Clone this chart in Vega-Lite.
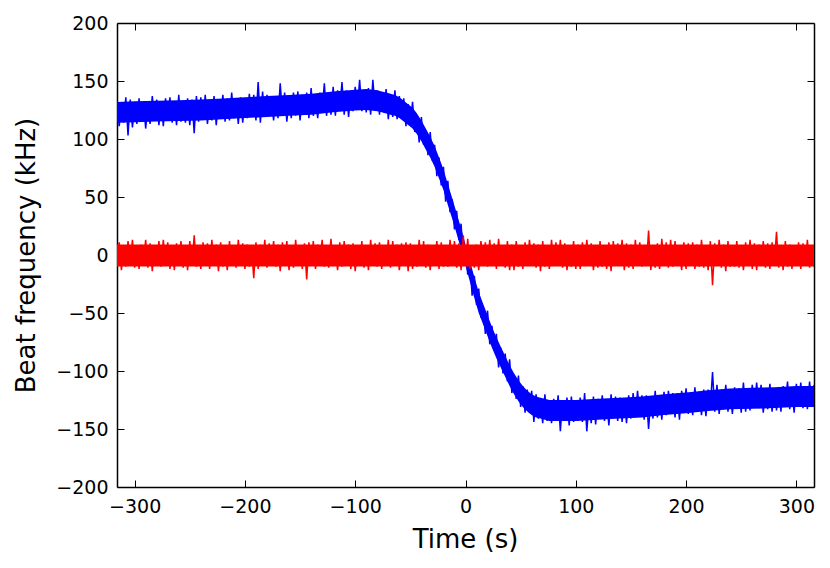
{
  "$schema": "https://vega.github.io/schema/vega-lite/v6.json",
  "width": 697,
  "height": 464,
  "autosize": {"type": "none"},
  "padding": {"left": 117, "top": 23, "right": 16, "bottom": 81},
  "background": "white",
  "config": {
    "view": {"stroke": null},
    "font": "DejaVu Sans",
    "axis": {
      "grid": false,
      "domainColor": "black",
      "domainWidth": 1.5,
      "tickColor": "black",
      "tickWidth": 1,
      "tickSize": -7,
      "labelFont": "DejaVu Sans",
      "labelFontSize": 19,
      "labelColor": "black",
      "titleFont": "DejaVu Sans",
      "titleFontSize": 26,
      "titleFontWeight": "normal",
      "titleColor": "black"
    }
  },
  "datasets": {
    "core": [
      {"t":-316,"bl":114,"bh":132,"rl":-10,"rh":9},{"t":-300,"bl":114.5,"bh":132.5,"rl":-10,"rh":9},{"t":-280,"bl":115,"bh":133,"rl":-10,"rh":9},
      {"t":-260,"bl":115.5,"bh":133.5,"rl":-10,"rh":9},{"t":-240,"bl":116,"bh":134,"rl":-10,"rh":9},{"t":-220,"bl":117,"bh":135,"rl":-10,"rh":9},
      {"t":-200,"bl":118,"bh":136,"rl":-10,"rh":9},{"t":-180,"bl":119,"bh":137,"rl":-10,"rh":9},{"t":-160,"bl":120,"bh":138,"rl":-10,"rh":9},
      {"t":-140,"bl":121,"bh":139,"rl":-10,"rh":9},{"t":-120,"bl":123,"bh":141,"rl":-10,"rh":9},{"t":-100,"bl":124.5,"bh":142.5,"rl":-10,"rh":9},
      {"t":-90,"bl":125,"bh":143,"rl":-10,"rh":9},{"t":-80,"bl":124,"bh":142,"rl":-10,"rh":9},{"t":-76,"bl":123,"bh":141,"rl":-10,"rh":9},
      {"t":-72,"bl":122,"bh":140,"rl":-10,"rh":9},{"t":-68,"bl":121,"bh":139,"rl":-10,"rh":9},{"t":-64,"bl":120,"bh":138,"rl":-10,"rh":9},
      {"t":-60,"bl":118,"bh":136,"rl":-10,"rh":9},{"t":-56,"bl":115,"bh":133,"rl":-10,"rh":9},{"t":-52,"bl":112,"bh":130,"rl":-10,"rh":9},
      {"t":-48,"bl":109,"bh":127,"rl":-10,"rh":9},{"t":-44,"bl":104,"bh":122,"rl":-10,"rh":9},{"t":-40,"bl":98,"bh":116,"rl":-10,"rh":9},
      {"t":-36,"bl":91,"bh":109,"rl":-10,"rh":9},{"t":-32,"bl":84,"bh":102,"rl":-10,"rh":9},{"t":-28,"bl":76,"bh":94,"rl":-10,"rh":9},
      {"t":-24,"bl":66,"bh":84,"rl":-10,"rh":9},{"t":-20,"bl":56,"bh":74,"rl":-10,"rh":9},{"t":-16,"bl":43,"bh":61,"rl":-10,"rh":9},
      {"t":-12,"bl":31,"bh":49,"rl":-10,"rh":9},{"t":-8,"bl":18,"bh":36,"rl":-10,"rh":9},{"t":-4,"bl":5,"bh":23,"rl":-10,"rh":9},
      {"t":0,"bl":-9,"bh":9,"rl":-10,"rh":9},{"t":4,"bl":-23,"bh":-5,"rl":-10,"rh":9},{"t":8,"bl":-37,"bh":-19,"rl":-10,"rh":9},
      {"t":12,"bl":-50,"bh":-32,"rl":-10,"rh":9},{"t":16,"bl":-60,"bh":-42,"rl":-10,"rh":9},{"t":20,"bl":-70,"bh":-52,"rl":-10,"rh":9},
      {"t":24,"bl":-80,"bh":-62,"rl":-10,"rh":9},{"t":28,"bl":-89,"bh":-71,"rl":-10,"rh":9},{"t":32,"bl":-97,"bh":-79,"rl":-10,"rh":9},
      {"t":36,"bl":-105,"bh":-87,"rl":-10,"rh":9},{"t":40,"bl":-113,"bh":-95,"rl":-10,"rh":9},{"t":44,"bl":-120,"bh":-102,"rl":-10,"rh":9},
      {"t":48,"bl":-126,"bh":-108,"rl":-10,"rh":9},{"t":52,"bl":-131,"bh":-113,"rl":-10,"rh":9},{"t":56,"bl":-135,"bh":-117,"rl":-10,"rh":9},
      {"t":60,"bl":-138,"bh":-120,"rl":-10,"rh":9},{"t":64,"bl":-140,"bh":-122,"rl":-10,"rh":9},{"t":68,"bl":-141,"bh":-123,"rl":-10,"rh":9},
      {"t":72,"bl":-142,"bh":-124,"rl":-10,"rh":9},{"t":76,"bl":-143,"bh":-125,"rl":-10,"rh":9},{"t":80,"bl":-143,"bh":-125,"rl":-10,"rh":9},
      {"t":100,"bl":-143,"bh":-125,"rl":-10,"rh":9},{"t":120,"bl":-142,"bh":-124,"rl":-10,"rh":9},{"t":140,"bl":-141,"bh":-123,"rl":-10,"rh":9},
      {"t":160,"bl":-140,"bh":-122,"rl":-10,"rh":9},{"t":180,"bl":-138,"bh":-120,"rl":-10,"rh":9},{"t":200,"bl":-136.5,"bh":-118.5,"rl":-10,"rh":9},
      {"t":220,"bl":-134.5,"bh":-116.5,"rl":-10,"rh":9},{"t":240,"bl":-133,"bh":-115,"rl":-10,"rh":9},{"t":260,"bl":-132.5,"bh":-114.5,"rl":-10,"rh":9},
      {"t":280,"bl":-132,"bh":-114,"rl":-10,"rh":9},{"t":300,"bl":-131,"bh":-113,"rl":-10,"rh":9},{"t":316,"bl":-131,"bh":-113,"rl":-10,"rh":9}
    ],
    "trace": [
      {"t":-316,"b":133,"r":-9},{"t":-314,"b":111,"r":11},{"t":-312,"b":130,"r":-13},{"t":-310,"b":114,"r":6},{"t":-308,"b":136,"r":-10},
      {"t":-306,"b":103,"r":12},{"t":-304,"b":134,"r":-7},{"t":-302,"b":110,"r":13},{"t":-300,"b":128,"r":-11},{"t":-298,"b":113,"r":8},
      {"t":-296,"b":135,"r":-12},{"t":-294,"b":115,"r":9},{"t":-292,"b":132,"r":-6},{"t":-290,"b":109,"r":13},{"t":-288,"b":129,"r":-11},
      {"t":-286,"b":113,"r":10},{"t":-284,"b":137,"r":-14},{"t":-282,"b":117,"r":7},{"t":-280,"b":134,"r":-9},{"t":-278,"b":112,"r":12},
      {"t":-276,"b":132,"r":-10},{"t":-274,"b":111,"r":13},{"t":-272,"b":135,"r":-8},{"t":-270,"b":119,"r":11},{"t":-268,"b":136,"r":-12},
      {"t":-266,"b":114,"r":6},{"t":-264,"b":131,"r":-13},{"t":-262,"b":112,"r":10},{"t":-260,"b":138,"r":-7},{"t":-258,"b":115,"r":12},
      {"t":-256,"b":131,"r":-11},{"t":-254,"b":114,"r":8},{"t":-252,"b":135,"r":-13},{"t":-250,"b":112,"r":12},{"t":-248,"b":134,"r":-9},
      {"t":-246,"b":105,"r":17},{"t":-244,"b":137,"r":-10},{"t":-242,"b":115,"r":7},{"t":-240,"b":136,"r":-12},{"t":-238,"b":117,"r":11},
      {"t":-236,"b":138,"r":-6},{"t":-234,"b":113,"r":10},{"t":-232,"b":130,"r":-12},{"t":-230,"b":116,"r":13},{"t":-228,"b":137,"r":-8},
      {"t":-226,"b":112,"r":9},{"t":-224,"b":134,"r":-14},{"t":-222,"b":120,"r":11},{"t":-220,"b":138,"r":-10},{"t":-218,"b":115,"r":6},
      {"t":-216,"b":135,"r":-13},{"t":-214,"b":116,"r":12},{"t":-212,"b":140,"r":-9},{"t":-210,"b":118,"r":8},{"t":-208,"b":133,"r":-11},
      {"t":-206,"b":113,"r":13},{"t":-204,"b":136,"r":-7},{"t":-202,"b":114,"r":10},{"t":-200,"b":133,"r":-12},{"t":-198,"b":118,"r":9},
      {"t":-196,"b":139,"r":-10},{"t":-194,"b":120,"r":6},{"t":-192,"b":138,"r":-20},{"t":-190,"b":116,"r":11},{"t":-188,"b":149,"r":-12},
      {"t":-186,"b":114,"r":9},{"t":-184,"b":141,"r":-8},{"t":-182,"b":119,"r":13},{"t":-180,"b":138,"r":-11},{"t":-178,"b":122,"r":10},
      {"t":-176,"b":135,"r":-7},{"t":-174,"b":116,"r":12},{"t":-172,"b":137,"r":-10},{"t":-170,"b":118,"r":9},{"t":-168,"b":148,"r":-14},
      {"t":-166,"b":121,"r":11},{"t":-164,"b":140,"r":-6},{"t":-162,"b":115,"r":12},{"t":-160,"b":134,"r":-13},{"t":-158,"b":118,"r":8},
      {"t":-156,"b":140,"r":-11},{"t":-154,"b":120,"r":13},{"t":-152,"b":141,"r":-9},{"t":-150,"b":116,"r":7},{"t":-148,"b":138,"r":-12},
      {"t":-146,"b":123,"r":10},{"t":-144,"b":140,"r":-21},{"t":-142,"b":118,"r":11},{"t":-140,"b":144,"r":-8},{"t":-138,"b":120,"r":12},
      {"t":-136,"b":136,"r":-12},{"t":-134,"b":118,"r":9},{"t":-132,"b":140,"r":-7},{"t":-130,"b":123,"r":13},{"t":-128,"b":148,"r":-10},
      {"t":-126,"b":120,"r":8},{"t":-124,"b":138,"r":-11},{"t":-122,"b":121,"r":14},{"t":-120,"b":145,"r":-9},{"t":-118,"b":120,"r":6},
      {"t":-116,"b":142,"r":-13},{"t":-114,"b":126,"r":11},{"t":-112,"b":149,"r":-10},{"t":-110,"b":121,"r":12},{"t":-108,"b":142,"r":-6},
      {"t":-106,"b":119,"r":9},{"t":-104,"b":141,"r":-12},{"t":-102,"b":124,"r":10},{"t":-100,"b":145,"r":-14},{"t":-98,"b":127,"r":8},
      {"t":-96,"b":151,"r":-9},{"t":-94,"b":124,"r":12},{"t":-92,"b":140,"r":-11},{"t":-90,"b":123,"r":7},{"t":-88,"b":144,"r":-13},
      {"t":-86,"b":121,"r":13},{"t":-84,"b":151,"r":-8},{"t":-82,"b":126,"r":10},{"t":-80,"b":142,"r":-10},{"t":-78,"b":121,"r":11},
      {"t":-76,"b":140,"r":-12},{"t":-74,"b":123,"r":6},{"t":-72,"b":143,"r":-9},{"t":-70,"b":117,"r":13},{"t":-68,"b":137,"r":-11},
      {"t":-66,"b":119,"r":12},{"t":-64,"b":142,"r":-7},{"t":-62,"b":117,"r":9},{"t":-60,"b":137,"r":-13},{"t":-58,"b":119,"r":10},
      {"t":-56,"b":135,"r":-8},{"t":-54,"b":111,"r":11},{"t":-52,"b":130,"r":-14},{"t":-50,"b":113,"r":10},{"t":-48,"b":132,"r":-12},
      {"t":-46,"b":106,"r":7},{"t":-44,"b":119,"r":-10},{"t":-42,"b":97,"r":13},{"t":-40,"b":119,"r":-9},{"t":-38,"b":95,"r":12},
      {"t":-36,"b":107,"r":-11},{"t":-34,"b":86,"r":9},{"t":-32,"b":106,"r":-13},{"t":-30,"b":81,"r":8},{"t":-28,"b":95,"r":-7},
      {"t":-26,"b":68,"r":12},{"t":-24,"b":84,"r":-12},{"t":-22,"b":60,"r":11},{"t":-20,"b":76,"r":-10},{"t":-18,"b":46,"r":6},
      {"t":-16,"b":64,"r":-10},{"t":-14,"b":37,"r":13},{"t":-12,"b":48,"r":-8},{"t":-10,"b":22,"r":12},{"t":-8,"b":38,"r":-11},
      {"t":-6,"b":13,"r":10},{"t":-4,"b":27,"r":-13},{"t":-2,"b":-4,"r":17},{"t":0,"b":6,"r":-9},{"t":2,"b":-17,"r":14},
      {"t":4,"b":-5,"r":-12},{"t":6,"b":-35,"r":8},{"t":8,"b":-18,"r":-11},{"t":10,"b":-43,"r":9},{"t":12,"b":-29,"r":-13},
      {"t":14,"b":-54,"r":12},{"t":16,"b":-44,"r":-6},{"t":18,"b":-68,"r":11},{"t":20,"b":-48,"r":-10},{"t":22,"b":-77,"r":13},
      {"t":24,"b":-61,"r":-9},{"t":26,"b":-82,"r":10},{"t":28,"b":-68,"r":-12},{"t":30,"b":-97,"r":14},{"t":32,"b":-80,"r":-8},
      {"t":34,"b":-102,"r":7},{"t":36,"b":-85,"r":-11},{"t":38,"b":-109,"r":12},{"t":40,"b":-90,"r":-13},{"t":42,"b":-119,"r":9},
      {"t":44,"b":-105,"r":-13},{"t":46,"b":-124,"r":12},{"t":48,"b":-104,"r":-10},{"t":50,"b":-131,"r":6},{"t":52,"b":-113,"r":-12},
      {"t":54,"b":-136,"r":11},{"t":56,"b":-116,"r":-9},{"t":58,"b":-136,"r":13},{"t":60,"b":-117,"r":-7},{"t":62,"b":-144,"r":10},
      {"t":64,"b":-120,"r":-11},{"t":66,"b":-141,"r":9},{"t":68,"b":-125,"r":-14},{"t":70,"b":-145,"r":12},{"t":72,"b":-120,"r":-10},
      {"t":74,"b":-143,"r":8},{"t":76,"b":-126,"r":-12},{"t":78,"b":-145,"r":13},{"t":80,"b":-124,"r":-9},{"t":82,"b":-141,"r":11},
      {"t":84,"b":-121,"r":-8},{"t":86,"b":-152,"r":13},{"t":88,"b":-125,"r":-11},{"t":90,"b":-142,"r":10},{"t":92,"b":-123,"r":-13},
      {"t":94,"b":-147,"r":7},{"t":96,"b":-122,"r":-10},{"t":98,"b":-144,"r":12},{"t":100,"b":-127,"r":-12},{"t":102,"b":-143,"r":9},
      {"t":104,"b":-123,"r":-12},{"t":106,"b":-144,"r":11},{"t":108,"b":-119,"r":-9},{"t":110,"b":-152,"r":13},{"t":112,"b":-127,"r":-6},
      {"t":114,"b":-145,"r":10},{"t":116,"b":-122,"r":-13},{"t":118,"b":-146,"r":8},{"t":120,"b":-124,"r":-11},{"t":122,"b":-141,"r":12},
      {"t":124,"b":-121,"r":-10},{"t":126,"b":-143,"r":7},{"t":128,"b":-125,"r":-12},{"t":130,"b":-147,"r":11},{"t":132,"b":-120,"r":-14},
      {"t":134,"b":-140,"r":12},{"t":136,"b":-122,"r":-9},{"t":138,"b":-143,"r":10},{"t":140,"b":-123,"r":-8},{"t":142,"b":-144,"r":13},
      {"t":144,"b":-125,"r":-13},{"t":146,"b":-145,"r":10},{"t":148,"b":-121,"r":-11},{"t":150,"b":-141,"r":9},{"t":152,"b":-119,"r":-12},
      {"t":154,"b":-140,"r":13},{"t":156,"b":-117,"r":-7},{"t":158,"b":-139,"r":11},{"t":160,"b":-121,"r":-10},{"t":162,"b":-142,"r":8},
      {"t":164,"b":-121,"r":-9},{"t":166,"b":-150,"r":21},{"t":168,"b":-124,"r":-13},{"t":170,"b":-141,"r":7},{"t":172,"b":-117,"r":-11},
      {"t":174,"b":-140,"r":10},{"t":176,"b":-122,"r":-12},{"t":178,"b":-142,"r":14},{"t":180,"b":-118,"r":-8},{"t":182,"b":-138,"r":11},
      {"t":184,"b":-117,"r":-11},{"t":186,"b":-137,"r":13},{"t":188,"b":-119,"r":-10},{"t":190,"b":-140,"r":12},{"t":192,"b":-119,"r":-9},
      {"t":194,"b":-142,"r":6},{"t":196,"b":-117,"r":-13},{"t":198,"b":-135,"r":11},{"t":200,"b":-115,"r":-12},{"t":202,"b":-137,"r":10},
      {"t":204,"b":-119,"r":-7},{"t":206,"b":-138,"r":11},{"t":208,"b":-114,"r":-12},{"t":210,"b":-135,"r":9},{"t":212,"b":-119,"r":-10},
      {"t":214,"b":-138,"r":13},{"t":216,"b":-116,"r":-11},{"t":218,"b":-139,"r":8},{"t":220,"b":-116,"r":-13},{"t":222,"b":-131,"r":12},
      {"t":224,"b":-101,"r":-26},{"t":226,"b":-135,"r":10},{"t":228,"b":-112,"r":-8},{"t":230,"b":-137,"r":13},{"t":232,"b":-116,"r":-11},
      {"t":234,"b":-133,"r":9},{"t":236,"b":-112,"r":-14},{"t":238,"b":-135,"r":12},{"t":240,"b":-118,"r":-10},{"t":242,"b":-137,"r":7},
      {"t":244,"b":-114,"r":-10},{"t":246,"b":-131,"r":12},{"t":248,"b":-115,"r":-11},{"t":250,"b":-136,"r":8},{"t":252,"b":-110,"r":-13},
      {"t":254,"b":-135,"r":11},{"t":256,"b":-117,"r":-9},{"t":258,"b":-134,"r":13},{"t":260,"b":-112,"r":-12},{"t":262,"b":-131,"r":10},
      {"t":264,"b":-110,"r":-13},{"t":266,"b":-132,"r":9},{"t":268,"b":-112,"r":-7},{"t":270,"b":-136,"r":12},{"t":272,"b":-117,"r":-11},
      {"t":274,"b":-133,"r":10},{"t":276,"b":-111,"r":-12},{"t":278,"b":-135,"r":11},{"t":280,"b":-115,"r":-8},{"t":282,"b":-134,"r":20},
      {"t":284,"b":-114,"r":-11},{"t":286,"b":-135,"r":8},{"t":288,"b":-113,"r":-13},{"t":290,"b":-131,"r":12},{"t":292,"b":-109,"r":-10},
      {"t":294,"b":-133,"r":9},{"t":296,"b":-115,"r":-12},{"t":298,"b":-136,"r":7},{"t":300,"b":-111,"r":-9},{"t":302,"b":-131,"r":11},
      {"t":304,"b":-110,"r":-12},{"t":306,"b":-132,"r":10},{"t":308,"b":-114,"r":-9},{"t":310,"b":-133,"r":13},{"t":312,"b":-109,"r":-11},
      {"t":314,"b":-131,"r":8},{"t":316,"b":-112,"r":-10}
    ]
  },
  "layer": [
    {
      "data": {"name": "core"},
      "mark": {"type": "area", "color": "#0000ff", "opacity": 1, "clip": true},
      "encoding": {
        "x": {
          "field": "t",
          "type": "quantitative",
          "scale": {"domain": [-316, 316], "nice": false, "zero": false},
          "axis": {
            "orient": "bottom",
            "title": "Time (s)",
            "values": [-300, -200, -100, 0, 100, 200, 300],
            "labelPadding": 17,
            "titleX": 348,
            "titleY": 60,
            "titleBaseline": "alphabetic",
            "titleAlign": "center"
          }
        },
        "y": {
          "field": "bl",
          "type": "quantitative",
          "scale": {"domain": [-200, 200], "nice": false, "zero": false},
          "axis": {
            "orient": "left",
            "title": "Beat frequency (kHz)",
            "values": [-200, -150, -100, -50, 0, 50, 100, 150, 200],
            "labelPadding": 16,
            "titleAngle": 270,
            "titleX": -83,
            "titleY": 232,
            "titleBaseline": "alphabetic",
            "titleAlign": "center"
          }
        },
        "y2": {"field": "bh"}
      }
    },
    {
      "data": {"name": "trace"},
      "mark": {"type": "line", "color": "#0000ff", "strokeWidth": 1.5, "strokeJoin": "bevel", "clip": true},
      "encoding": {
        "x": {"field": "t", "type": "quantitative", "scale": {"domain": [-316, 316], "nice": false, "zero": false}, "axis": null},
        "y": {"field": "b", "type": "quantitative", "scale": {"domain": [-200, 200], "nice": false, "zero": false}, "axis": null}
      }
    },
    {
      "data": {"name": "core"},
      "mark": {"type": "area", "color": "#ff0000", "opacity": 1, "clip": true},
      "encoding": {
        "x": {"field": "t", "type": "quantitative", "scale": {"domain": [-316, 316], "nice": false, "zero": false}, "axis": null},
        "y": {"field": "rl", "type": "quantitative", "scale": {"domain": [-200, 200], "nice": false, "zero": false}, "axis": null},
        "y2": {"field": "rh"}
      }
    },
    {
      "data": {"name": "trace"},
      "mark": {"type": "line", "color": "#ff0000", "strokeWidth": 1.5, "strokeJoin": "bevel", "clip": true},
      "encoding": {
        "x": {
          "field": "t",
          "type": "quantitative",
          "scale": {"domain": [-316, 316], "nice": false, "zero": false},
          "axis": {"orient": "top", "title": null, "labels": false, "values": [-300, -200, -100, 0, 100, 200, 300]}
        },
        "y": {
          "field": "r",
          "type": "quantitative",
          "scale": {"domain": [-200, 200], "nice": false, "zero": false},
          "axis": {"orient": "right", "title": null, "labels": false, "values": [-200, -150, -100, -50, 0, 50, 100, 150, 200]}
        }
      }
    }
  ],
  "resolve": {"axis": {"x": "independent", "y": "independent"}}
}
